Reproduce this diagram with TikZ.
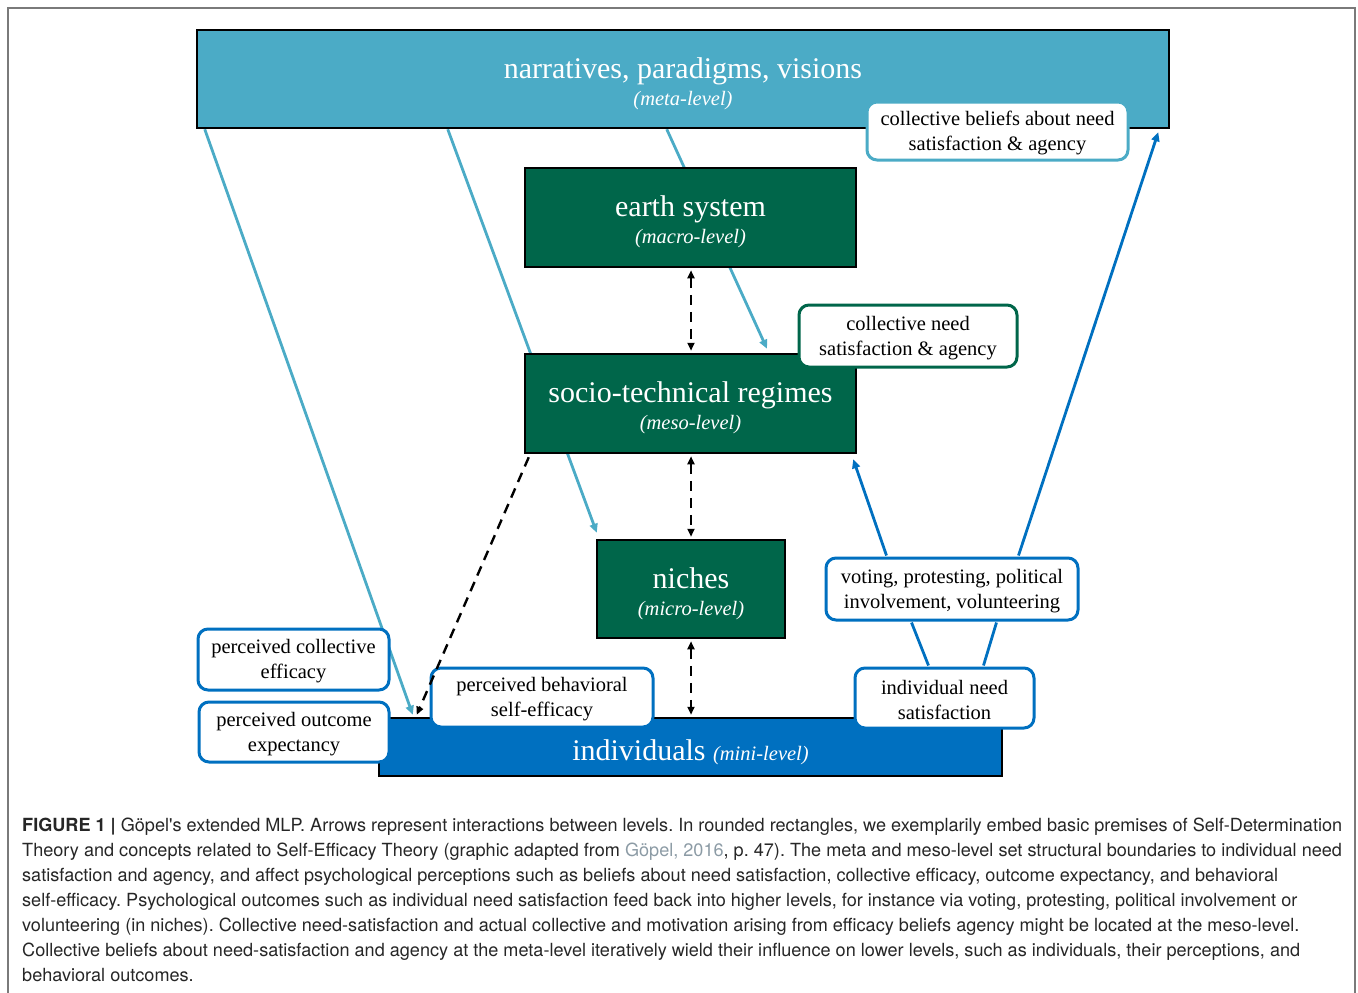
\documentclass[tikz,border=0pt]{standalone}
\usepackage{fontspec}
\setmainfont{Liberation Serif}
\newfontfamily\capfont{TeX Gyre Heros}
\usetikzlibrary{calc,arrows.meta,backgrounds}
\definecolor{metac}{HTML}{4BABC6}
\definecolor{greenc}{HTML}{00664A}
\definecolor{bluec}{HTML}{0070C0}
\definecolor{capgray}{HTML}{8C9BA5}
\definecolor{framec}{HTML}{7A7A7A}
\newcommand{\sublevel}[1]{{\fontsize{20.5}{21}\selectfont\itshape #1}}
\newcommand{\uplift}{\rule{0pt}{29.5pt}}
\newcommand{\rlift}{\rule{0pt}{17.5pt}}
\begin{document}
\begin{tikzpicture}[x=1pt,y=-1pt,
  levelbox/.style={draw=black, line width=2.5pt, text=white, inner sep=0pt, align=center,
    font=\fontsize{30}{27}\selectfont},
  roundbox/.style={draw=#1, fill=white, line width=3pt, rounded corners=10pt, inner sep=0pt,
    align=center, text=black, font=\fontsize{20.5}{25}\selectfont},
  metaline/.style={draw=metac, line width=2.8pt},
  blueline/.style={draw=bluec, line width=2.8pt},
  ctip/.style={-{Triangle[length=9pt,width=8pt]}},
  dashline/.style={draw=black, line width=2.4pt, dash pattern=on 10pt off 7pt,
    {Triangle[length=8pt,width=7pt]}-{Triangle[length=8pt,width=7pt]}},
]
\useasboundingbox (0,0) rectangle (1358,993);
\draw[framec, line width=1.5pt] (8,993) -- (8,8) -- (1355,8) -- (1355,993);

% level boxes
\node[levelbox, fill=metac, minimum width=972pt, minimum height=98pt] (meta) at (683,79)
  {\uplift narratives, paradigms, visions\\\sublevel{(meta-level)}};
\node[levelbox, fill=greenc, minimum width=331pt, minimum height=99pt] (earth) at (690.5,217.5)
  {\uplift earth system\\\sublevel{(macro-level)}};
\node[levelbox, fill=greenc, minimum width=331pt, minimum height=99pt] (socio) at (690.5,403.5)
  {\uplift socio-technical regimes\\\sublevel{(meso-level)}};
\node[levelbox, fill=greenc, minimum width=188pt, minimum height=98pt] (niches) at (691,589)
  {\uplift niches\\\sublevel{(micro-level)}};
\node[levelbox, fill=bluec, minimum width=623pt, minimum height=58pt] (indiv) at (690.5,747)
  {\rule{0pt}{31pt}individuals {\fontsize{20.5}{21}\selectfont\itshape (mini-level)}};

% rounded boxes
\node[roundbox=metac, minimum width=261pt, minimum height=58pt] (cbel) at (997.5,131)
  {\rlift collective beliefs about need\\satisfaction \& agency};
\node[roundbox=greenc, minimum width=218pt, minimum height=62pt] (cneed) at (908,336)
  {\rlift collective need\\satisfaction \& agency};
\node[roundbox=bluec, minimum width=191pt, minimum height=61pt] (pce) at (293.5,659.5)
  {\rlift perceived collective\\efficacy};
\node[roundbox=bluec, minimum width=190pt, minimum height=60pt] (poe) at (294,732)
  {\rlift perceived outcome\\expectancy};
\node[roundbox=bluec, minimum width=222pt, minimum height=59pt] (pbs) at (542,697.5)
  {\rlift perceived behavioral\\self-efficacy};
\node[roundbox=bluec, minimum width=252pt, minimum height=62pt] (vote) at (952,589)
  {\rlift voting, protesting, political\\involvement, volunteering};
\node[roundbox=bluec, minimum width=179pt, minimum height=60pt] (ins) at (944.5,698)
  {\rlift individual need\\satisfaction};

% connectors
\begin{pgfonlayer}{background}
\draw[metaline, ctip] ($(meta.south west)+(9,0)$) -- ($(indiv.north west)+(35,-2)$);
\draw[metaline, ctip] ($(meta.south west)+(252,0)$) -- ($(niches.north west)+(1,-6)$);
\draw[metaline, ctip] ($(meta.south west)+(471,0)$) -- ($(socio.north)+(76.5,-4)$);
\end{pgfonlayer}
\draw[draw=black, line width=2.4pt, dash pattern=on 10pt off 7pt, -{Triangle[length=8pt,width=7pt]}]
  ($(socio.south west)+(5,3)$) -- ($(indiv.north west)+(39,-2)$);
\draw[dashline] ($(earth.south)+(0.5,2)$) -- ($(socio.north)+(0.5,-2)$);
\draw[dashline] ($(socio.south)+(0.5,2)$) -- ($(niches.north)+(0,-2)$);
\draw[dashline] ($(niches.south)+(0,2)$) -- ($(indiv.north)+(0.5,-2)$);
\draw[blueline, ctip] ($(vote.north west)+(62,-1)$) -- ($(socio.south east)+(-4,5)$);
\draw[blueline, ctip] ($(vote.north west)+(194,-1)$) -- ($(meta.south east)+(-12,3)$);
\draw[blueline] ($(ins.north west)+(75,-1)$) -- ($(vote.south west)+(87,1)$);
\draw[blueline] ($(ins.north west)+(130,-1)$) -- ($(vote.south west)+(172,1)$);

% caption
\node[anchor=north west, inner sep=0pt, align=left, text=black!85,
  font=\capfont\fontsize{18.1}{25}\selectfont\frenchspacing] (cap) at (22,818)
  {{\bfseries FIGURE 1 \textbar} Göpel's extended MLP. Arrows represent interactions between levels. In rounded rectangles, we exemplarily embed basic premises of Self-Determination\\
  Theory and concepts related to Self-Efficacy Theory (graphic adapted from \textcolor{capgray}{Göpel, 2016}, p. 47). The meta and meso-level set structural boundaries to individual need\\
  satisfaction and agency, and affect psychological perceptions such as beliefs about need satisfaction, collective efficacy, outcome expectancy, and behavioral\\
  self-efficacy. Psychological outcomes such as individual need satisfaction feed back into higher levels, for instance via voting, protesting, political involvement or\\
  volunteering (in niches). Collective need-satisfaction and actual collective and motivation arising from efficacy beliefs agency might be located at the meso-level.\\
  Collective beliefs about need-satisfaction and agency at the meta-level iteratively wield their influence on lower levels, such as individuals, their perceptions, and\\
  behavioral outcomes.};
\end{tikzpicture}
\end{document}
